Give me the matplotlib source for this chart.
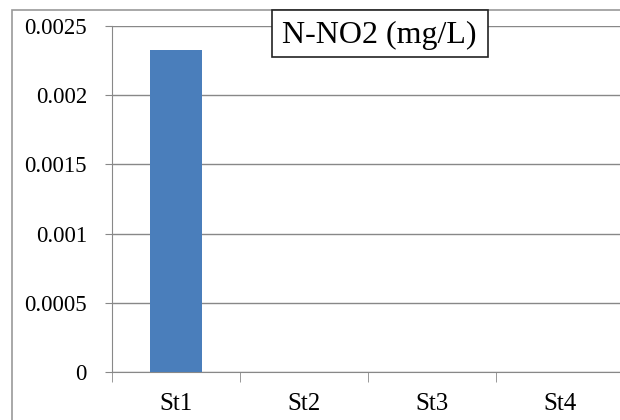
import matplotlib
matplotlib.use("Agg")
import matplotlib.pyplot as plt
import matplotlib.ticker as mticker
from matplotlib.patches import Rectangle

# Data
stations = ["St1", "St2", "St3", "St4"]
values = [0.00233, 0.0, 0.0, 0.0]
y_ticks = [0, 0.0005, 0.001, 0.0015, 0.002, 0.0025]
y_labels = ["0", "0.0005", "0.001", "0.0015", "0.002", "0.0025"]

plt.rcParams["font.family"] = ["Liberation Serif", "DejaVu Serif"]

W, H = 620, 420
fig = plt.figure(figsize=(6.2, 4.2), dpi=100)
# outer chart frame (cropped on right and bottom)
fig.patches.append(Rectangle((12 / W, -0.05), 1.2, 1.05 - 10 / H, transform=fig.transFigure,
                             fill=False, edgecolor="#999999", linewidth=1.2))

ax = fig.add_axes([112 / W, 48 / H, (W - 112) / W, 346 / H])
x = list(range(len(stations)))
ax.bar(x, values, width=0.41, color="#4a7ebb", zorder=3)

ax.set_ylim(0, 0.0025)
ax.set_xlim(-0.5, 3.47)
ax.set_yticks(y_ticks)
ax.set_yticklabels(y_labels, fontsize=16.5)
ax.set_xticks(x)
ax.set_xticklabels(stations, fontsize=18)
ax.xaxis.set_minor_locator(mticker.FixedLocator([-0.5, 0.5, 1.5, 2.5, 3.5]))
ax.tick_params(axis="x", which="major", length=0, pad=15)
ax.tick_params(axis="x", which="minor", length=7, color="#888888", direction="out")
ax.tick_params(axis="y", length=5, color="#888888", direction="out", pad=13)

ax.grid(axis="y", color="#888888", linewidth=1.0, zorder=0)
for side in ["top", "right"]:
    ax.spines[side].set_visible(False)
ax.spines["left"].set_color("#888888")
ax.spines["bottom"].set_color("#888888")

# title box
fig.patches.append(Rectangle((272 / W, 1 - 57 / H), 216 / W, 47 / H, transform=fig.transFigure,
                             facecolor="white", edgecolor="#222222", linewidth=1.2, zorder=5))
fig.text(379 / W, 1 - 43 / H, "N-NO2 (mg/L)", ha="center", va="baseline", fontsize=23,
         zorder=6)

fig.savefig("out.png", dpi=100)
